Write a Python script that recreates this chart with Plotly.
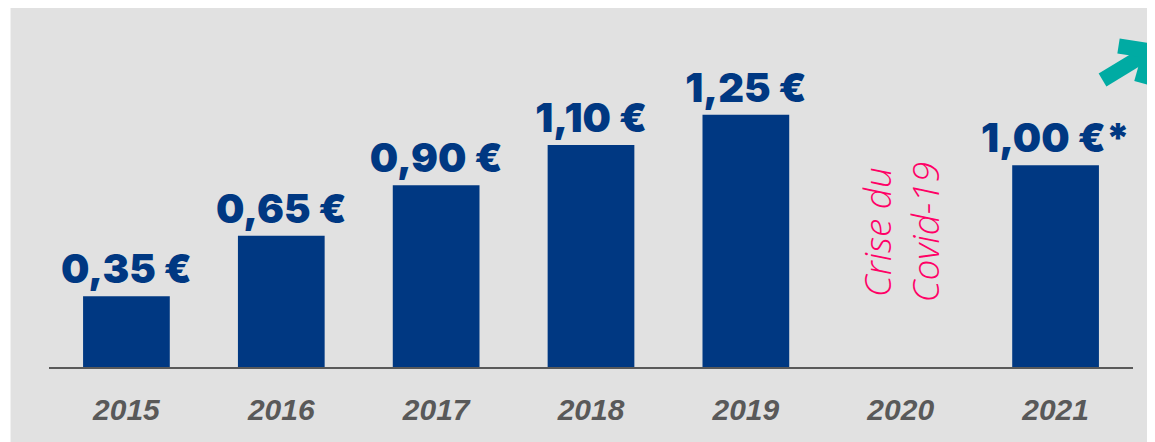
import plotly.graph_objects as go

years = ['2015', '2016', '2017', '2018', '2019', '2020', '2021']
dividends = [0.35, 0.65, 0.90, 1.10, 1.25, None, 1.00]
labels = ['0,35 €', '0,65 €', '0,90 €', '1,10 €', '1,25 €', '', '1,00 €*']
covid_note = 'Crise du<br>Covid-19'

BLUE = '#003882'
GREY_TXT = '#595959'
BG = '#e1e1e1'
TEAL = '#00aba3'


def px_to_paper(x, y):
    # page pixels -> paper coords (plot area: x 48.5..1133.5, y 44..367 on the page)
    return (x - 48.5) / 1085, (367 - y) / 323


fig = go.Figure()
fig.add_trace(go.Bar(
    x=years, y=dividends,
    marker=dict(color=BLUE, line=dict(width=0)),
    text=labels, textposition='outside', cliponaxis=False, constraintext='none',
    textfont=dict(family='Inter', size=40, color=BLUE, weight=900),
    hoverinfo='skip',
))

fig.add_annotation(
    x=5, y=0.67, text=covid_note, textangle=-90, showarrow=False,
    font=dict(family='Open Sans', size=37, color='#ff0066', style='italic', weight=300),
    xanchor='center', yanchor='middle',
)

# grey panel behind the chart
x0, y1 = px_to_paper(10, 4)
fig.add_shape(type='rect', xref='paper', yref='paper', x0=x0, x1=1.1, y0=-0.4, y1=y1,
              fillcolor=BG, line=dict(width=0), layer='below')

# teal arrow in the corner
tail = px_to_paper(1103, 80)
tip = px_to_paper(1151, 51)
arm1 = px_to_paper(1119, 46)
arm2 = px_to_paper(1142, 83)
for a in [tail, arm1, arm2]:
    fig.add_shape(type='line', xref='paper', yref='paper', x0=a[0], y0=a[1], x1=tip[0], y1=tip[1],
                  line=dict(color=TEAL, width=15))

# page body has an 8px margin, so the figure is 8px smaller and shifted
fig.update_layout(
    width=1147, height=434,
    paper_bgcolor='white', plot_bgcolor='rgba(0,0,0,0)',
    margin=dict(l=40.5, r=21.5, t=36, b=75),
    showlegend=False, bargap=0.44,
    xaxis=dict(type='category', range=[-0.5, 6.5]),
)
fig.update_xaxes(showgrid=False, showline=True, linewidth=2, linecolor=GREY_TXT,
                 zeroline=False, ticks='', ticklabelstandoff=15,
                 tickfont=dict(family='Liberation Sans', size=30, color=GREY_TXT, weight='bold', style='italic'))
fig.update_yaxes(range=[0, 1.6], visible=False)

fig.write_html('out.html')
